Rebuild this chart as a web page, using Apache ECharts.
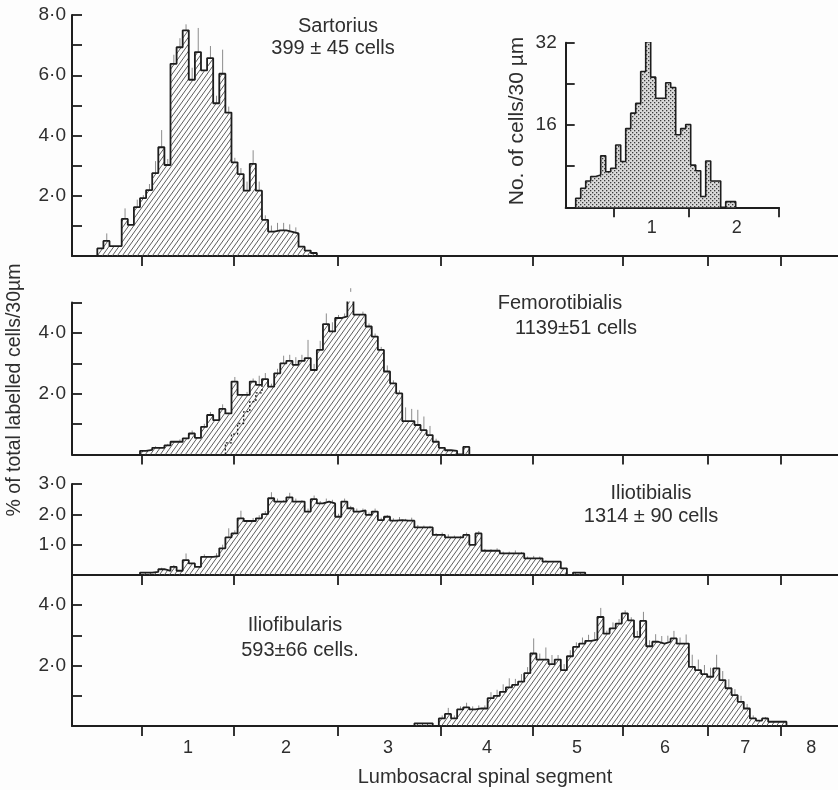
<!DOCTYPE html>
<html>
<head>
<meta charset="utf-8">
<script src="https://cdn.jsdelivr.net/npm/echarts@6/dist/echarts.min.js"></script>
<style>
html,body{margin:0;padding:0;background:#fdfdfd;}
#chart{width:838px;height:790px;}
</style>
</head>
<body>
<div id="chart"></div>
<script>
// x positions are in 30 um bins along the cord
var segNames = ['1','2','3','4','5','6','7','8'];
var segTicks = [11.33, 26.41, 43.37, 60.34, 75.34, 90.1, 104.11, 116.08];
var segCenters = [18.87, 34.93, 51.65, 67.88, 82.64, 97.07, 110.26, 121.08];

var sartStart = 4;
var sartVals = [0.25,0.5,0.33,0.33,1.23,1.03,1.62,1.92,2.19,2.75,
	3.61,3.02,6.38,6.93,7.49,5.85,6.77,6.16,6.57,5.07,
	6.05,4.76,3.11,2.72,2.17,3.06,2.17,1.2,0.81,0.85,
	0.85,0.8,0.75,0.31,0.18,0.1];
var sartErr = [0,0.25,0,0,0.35,0,0.25,0.1,0.2,0.4,
	0.57,0.2,0.3,0.3,0.2,0.4,0.8,0,0.4,0.25,
	0.8,0.2,0.15,0.2,0.3,0.45,0.3,0.15,0.2,0.25,
	0.25,0.25,0.2,0,0,0];

var femoStart = 11;
var femoVals = [0.12,0.15,0.22,0.22,0.3,0.42,0.42,0.53,0.69,0.55,
	0.91,1.3,1.13,1.5,1.35,2.4,1.96,1.96,2.4,2.29,
	2.48,2.23,2.67,3.0,3.08,2.95,3.08,3.17,2.78,3.44,
	4.29,4.05,4.49,4.54,5.35,4.6,4.6,4.21,3.88,3.44,
	2.73,2.34,2.01,1.1,1.1,0.97,0.8,0.64,0.42,0.22,
	0.14,0.12,0,0.25];
var femoErr = [0,0,0.05,0,0.05,0,0.08,0,0.1,0,
	0.1,0.1,0,0.15,0,0.15,0,0.1,0.1,0.3,
	0.2,0.1,0.15,0.25,0.2,0.25,0.2,0.6,0.2,0.3,
	0.35,0.3,0.1,0.1,0.12,0,0.1,0.1,0.1,0.1,
	0.2,0.1,0.1,0.45,0.4,0.5,0.45,0.3,0.1,0,
	0,0,0,0];
// dotted inner outline in the femorotibialis panel
var femoDashStart = 25;
var femoDashVals = [0.38,0.67,1.02,1.41,1.74,2.03,2.29];

var tibStart = 11;
var tibVals = [0.08,0.08,0.1,0.19,0.14,0.27,0.14,0.49,0.38,0.27,
	0.6,0.6,0.62,0.88,1.24,1.37,1.87,1.78,1.78,1.87,
	2.01,2.53,2.42,2.42,2.56,2.42,2.42,2.09,2.5,2.36,
	2.42,2.36,1.92,2.42,2.2,2.09,2.13,1.98,2.09,1.81,
	1.92,1.79,1.81,1.79,1.79,1.57,1.57,1.57,1.32,1.32,
	1.24,1.24,1.24,1.32,0.99,1.37,0.8,0.8,0.8,0.71,
	0.71,0.71,0.71,0.55,0.55,0.55,0.44,0.44,0.44,0.22,
	0,0.08,0.08];
var tibErr = [0,0,0,0.05,0,0.06,0,0.22,0,0,
	0.08,0,0.1,0.12,0.3,0.1,0.25,0,0.1,0.1,
	0.1,0.2,0.1,0.05,0.15,0.1,0.05,0.1,0.12,0.08,
	0.1,0.12,0.1,0.1,0.08,0.1,0.06,0.08,0.1,0.08,
	0.06,0.08,0.1,0.06,0.1,0.08,0.06,0.05,0.06,0.08,
	0.1,0.06,0.05,0.08,0,0.08,0.06,0.05,0.08,0.06,
	0.06,0.1,0.05,0.06,0.08,0.06,0.05,0,0,0,
	0,0,0];

var fibStart = 56;
var fibVals = [0.09,0.09,0.09,0,0.25,0.4,0.25,0.55,0.62,0.55,
	0.58,0.58,0.92,1.0,1.13,1.28,1.36,1.47,1.75,2.4,
	2.2,2.2,2.05,2.2,1.85,2.31,2.62,2.73,2.82,2.86,
	3.61,3.06,3.23,3.39,3.73,3.5,2.95,3.48,2.64,2.79,
	2.73,2.79,2.9,2.73,2.73,1.96,1.85,1.72,1.63,1.91,
	1.52,1.25,1.02,0.8,0.58,0.25,0.18,0.25,0.14,0.14,
	0.14];
var fibErr = [0,0,0,0,0.1,0.2,0.1,0.1,0.15,0.1,
	0.1,0.1,0.2,0.2,0.25,0.3,0.2,0.25,0.2,0.5,
	0.2,0.4,0.3,0.15,0.2,0.2,0.15,0.2,0.2,0.25,
	0.3,0.1,0.2,0.15,0.1,0.1,0.2,0.3,0.2,0.25,
	0.25,0.2,0.25,0.2,0.3,0.4,0.35,0.3,0.3,0.45,
	0.3,0.3,0.2,0.2,0.15,0.1,0,0.05,0,0,
	0];

// inset: sartorius cell counts per 30 um
var insetStart = 2;
var insetVals = [1.75,3.7,5.1,6.0,6.3,10.0,6.9,7.6,12.1,8.9,
	15.3,18.3,20.2,26.4,32.2,25.3,21.2,21.2,24.2,23.3,
	14.1,15.3,16.1,8.2,7.1,2.1,9.0,5.1,5.1,0,
	1.1,1.1];
var insetTicks = [9.52, 24.66, 42.66];
var insetLabelPos = [17.2, 34.2];
var insetLabels = ['1','2'];

var FONT = '"Liberation Sans", Arial, sans-serif';
var INK = '#1e1e1e';
var TXT = '#2e2e2e';

function makeHatch() {
	var c = document.createElement('canvas');
	c.width = 5; c.height = 7;
	var g = c.getContext('2d');
	g.strokeStyle = '#4a4a4a';
	g.lineWidth = 0.9;
	g.beginPath();
	g.moveTo(-5, 7); g.lineTo(0, 0);
	g.moveTo(0, 7); g.lineTo(5, 0);
	g.moveTo(5, 7); g.lineTo(10, 0);
	g.stroke();
	return c;
}
function makeDots() {
	var c = document.createElement('canvas');
	c.width = 4; c.height = 4;
	var g = c.getContext('2d');
	g.fillStyle = '#dadada';
	g.fillRect(0, 0, 4, 4);
	g.fillStyle = '#3c3c3c';
	g.fillRect(0, 0, 1.3, 1.3);
	g.fillRect(2, 2, 1.3, 1.3);
	return c;
}
var hatch = {image: makeHatch(), repeat: 'repeat'};
var dots = {image: makeDots(), repeat: 'repeat'};

function stepData(start, vals) {
	var d = [[start, 0]];
	for (var i = 0; i < vals.length; i++) {
		d.push([start + i, vals[i]]);
	}
	d.push([start + vals.length, 0]);
	return d;
}
function errData(start, vals, errs) {
	var d = [];
	for (var i = 0; i < vals.length; i++) {
		if (errs[i] > 0) d.push([start + i, vals[i], errs[i]]);
	}
	return d;
}
function errItem(params, api) {
	var x = api.value(0) + 0.55;
	var p0 = api.coord([x, api.value(1)]);
	var p1 = api.coord([x, api.value(1) + api.value(2)]);
	return {
		type: 'line',
		shape: {x1: p0[0], y1: p0[1], x2: p1[0], y2: p1[1]},
		style: {stroke: '#8c8c8c', lineWidth: 1}
	};
}
function dotFmt(v) {
	return v.toFixed(1).replace('.', '\u00b7');
}

function mainX(idx, showLabels) {
	return {
		gridIndex: idx, type: 'value', min: -0.15, max: 125.45,
		axisLine: {onZero: false, lineStyle: {color: INK, width: 2}},
		axisTick: {show: true, inside: false, length: 10, customValues: segTicks,
			lineStyle: {color: INK, width: 1.8}},
		axisLabel: {show: showLabels, customValues: segCenters, margin: 13,
			fontFamily: FONT, fontSize: 18, color: TXT,
			formatter: function(v) { return segNames[segCenters.indexOf(v)]; }},
		splitLine: {show: false}
	};
}
function mainY(idx, max, ticks, labels) {
	return {
		gridIndex: idx, type: 'value', min: 0, max: max,
		axisLine: {show: true, onZero: false, lineStyle: {color: INK, width: 2}},
		axisTick: {show: true, inside: true, length: 10, customValues: ticks,
			lineStyle: {color: INK, width: 1.8}},
		axisLabel: {customValues: labels, margin: 6, fontFamily: FONT, fontSize: 19,
			color: TXT, formatter: dotFmt},
		splitLine: {show: false}
	};
}
function histo(idx, start, vals) {
	return {
		type: 'line', xAxisIndex: idx, yAxisIndex: idx, step: 'end',
		symbol: 'none', data: stepData(start, vals),
		lineStyle: {color: INK, width: 1.8},
		areaStyle: {color: hatch, opacity: 1},
		z: 3
	};
}
function errs(idx, start, vals, e) {
	return {
		type: 'custom', xAxisIndex: idx, yAxisIndex: idx,
		renderItem: errItem, data: errData(start, vals, e), z: 2
	};
}
function label(x, y, text, size, rot) {
	return {
		type: 'text', x: x, y: y, rotation: rot || 0,
		style: {text: text, font: size + 'px ' + FONT, fill: TXT,
			textAlign: 'center', textVerticalAlign: 'middle',
			align: 'center', verticalAlign: 'middle'}
	};
}

var chart = echarts.init(document.getElementById('chart'));
var option = {
	backgroundColor: '#fdfdfd',
	animation: false,
	grid: [
		{left: 72, right: 0, top: 15, height: 241},
		{left: 72, right: 0, top: 302.5, height: 152},
		{left: 72, right: 0, top: 484, height: 91},
		{left: 72, right: 0, top: 575, height: 151},
		{left: 565.7, top: 42.7, width: 213.3, height: 164.6}
	],
	xAxis: [
		mainX(0, false), mainX(1, false), mainX(2, false), mainX(3, true),
		{
			gridIndex: 4, type: 'value', min: 0, max: 42.66,
			axisLine: {onZero: false, lineStyle: {color: INK, width: 2}},
			axisTick: {inside: false, length: 10, customValues: insetTicks,
				lineStyle: {color: INK, width: 1.8}},
			axisLabel: {customValues: insetLabelPos, margin: 12, fontFamily: FONT,
				fontSize: 18, color: TXT,
				formatter: function(v) { return insetLabels[insetLabelPos.indexOf(v)]; }},
			splitLine: {show: false}
		}
	],
	yAxis: [
		mainY(0, 8, [1,2,3,4,5,6,7,8], [2,4,6,8]),
		mainY(1, 5, [1,2,3,4,5], [2,4]),
		mainY(2, 3, [1,2,3], [1,2,3]),
		mainY(3, 5, [1,2,3,4], [2,4]),
		{
			gridIndex: 4, type: 'value', min: 0, max: 32,
			axisLine: {show: true, onZero: false, lineStyle: {color: INK, width: 2}},
			axisTick: {show: true, inside: true, length: 9, customValues: [8,16,24,32],
				lineStyle: {color: INK, width: 1.8}},
			axisLabel: {customValues: [16,32], margin: 9, fontFamily: FONT, fontSize: 19, color: TXT},
			splitLine: {show: false}
		}
	],
	series: [
		errs(0, sartStart, sartVals, sartErr),
		histo(0, sartStart, sartVals),
		errs(1, femoStart, femoVals, femoErr),
		histo(1, femoStart, femoVals),
		{
			type: 'line', xAxisIndex: 1, yAxisIndex: 1, step: 'end', symbol: 'none',
			data: [[femoDashStart, 0]].concat(femoDashVals.map(function(v, i) { return [femoDashStart + i, v]; })),
			lineStyle: {color: INK, width: 1.3, type: [2, 2]}, z: 4
		},
		errs(2, tibStart, tibVals, tibErr),
		histo(2, tibStart, tibVals),
		errs(3, fibStart, fibVals, fibErr),
		histo(3, fibStart, fibVals),
		{
			type: 'line', xAxisIndex: 4, yAxisIndex: 4, step: 'end', symbol: 'none',
			data: stepData(insetStart, insetVals),
			lineStyle: {color: INK, width: 1.6},
			areaStyle: {color: dots, opacity: 1}
		}
	],
	graphic: [
		label(338, 26, 'Sartorius', 20),
		label(333, 48, '399 \u00b1 45 cells', 20),
		label(560, 303, 'Femorotibialis', 20),
		label(576, 328, '1139\u00b151 cells', 20),
		label(651, 493, 'Iliotibialis', 20),
		label(651, 516, '1314 \u00b1 90 cells', 20),
		label(295, 625, 'Iliofibularis', 20),
		label(300, 650, '593\u00b166 cells.', 20),
		label(485, 777, 'Lumbosacral spinal segment', 20),
		label(15, 390, '% of total labelled cells/30\u00b5m', 19.5, Math.PI / 2),
		label(517, 121, 'No. of cells/30 \u00b5m', 21, Math.PI / 2)
	]
};
chart.setOption(option);
</script>
</body>
</html>
